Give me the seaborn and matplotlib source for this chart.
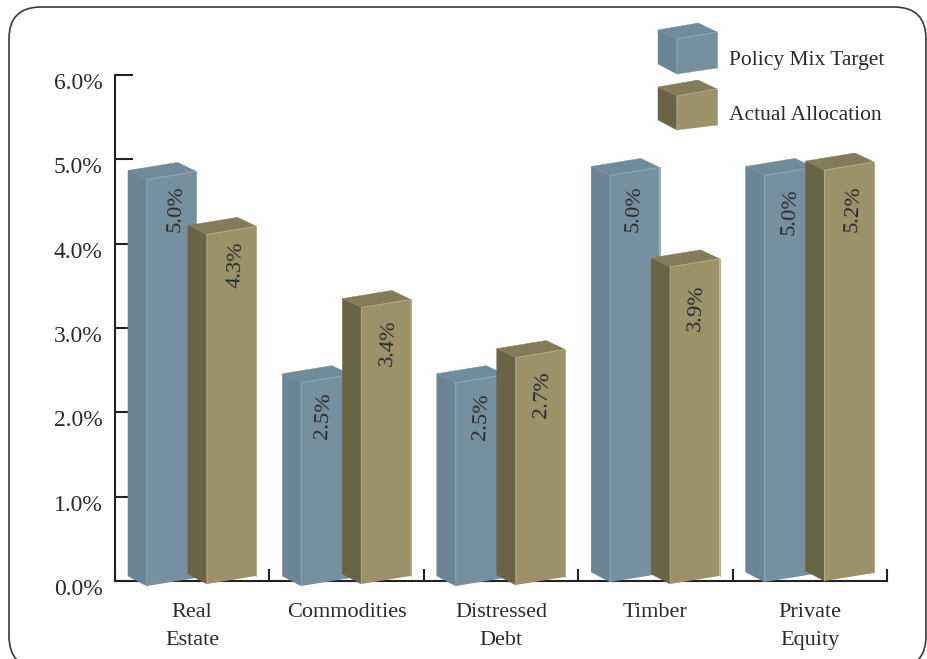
import matplotlib
matplotlib.use("Agg")
import matplotlib.pyplot as plt
from matplotlib.lines import Line2D
from matplotlib.patches import FancyBboxPatch, Polygon
from matplotlib.ticker import FixedLocator, FuncFormatter
from matplotlib.transforms import Affine2D, IdentityTransform, ScaledTranslation
import pandas as pd
import seaborn as sns

# Allocation data, in percent of the portfolio
categories = ["Real\nEstate", "Commodities", "Distressed\nDebt", "Timber", "Private\nEquity"]
policy_target = [5.0, 2.5, 2.5, 5.0, 5.0]
actual_allocation = [4.3, 3.4, 2.7, 3.9, 5.2]
series_names = ["Policy Mix Target", "Actual Allocation"]
y_ticks = [0, 1, 2, 3, 4, 5, 6]

# Face colours: front, side, top, highlight
BLUE = ("#76909F", "#6B8594", "#708B9A", "#8FA8B6")
TAN = ("#9C9168", "#696446", "#847C59", "#B4AA83")
INK = "#2B2B2B"
FONT = "Liberation Serif"

W, H = 927, 659
AX_LEFT, AX_RIGHT, AX_TOP, AX_BOTTOM = 115, 887, 75, 581

# Pseudo-3D layout, all in pixels
SHIFT_X = 9.5            # front faces sit right of the category centre
SHEAR = 8 / 49           # front faces rise towards the right
FACE_SCALE = 81.3 / 84.33  # front faces are slightly shorter than the axis scale
DEPTH_TOP = (-19, -9)
DEPTH_BASE = (-19, -10)
BASE_DROP = ([5, 5, 5, 1, 1], [3, 3, 4, 3, 0])
HEIGHT_TRIM = ([1, 1, 1, 1, 1], [1, 1, 1.036, 1, 0.972])
LABEL_NUDGE_X = ([5, -2, 1, -1, 1], [5, 3, 2, 2, 4])
LABEL_DROP = ([29, 33, 34, 33, 36], [30, 35, 37, 41, 39])


def px(x, y):
    """Convert image pixels (origin top-left) to display coordinates."""
    return (x, H - y)


def poly(ax, pts, color, z):
    ax.add_patch(Polygon(pts, closed=True, facecolor=color, edgecolor=color, linewidth=0.3,
                         transform=IdentityTransform(), clip_on=False, zorder=z))


def highlight(ax, pts, color, z):
    xs, ys = zip(*pts)
    ax.add_line(Line2D(xs, ys, color=color, linewidth=0.7, transform=IdentityTransform(),
                       clip_on=False, zorder=z))


def box_faces(ax, bl, br, tr, tl, palette, z):
    """Draw side, top, front faces of a block from its four front corners."""
    front, side, top, light = palette
    back_tl = (tl[0] + DEPTH_TOP[0], tl[1] - DEPTH_TOP[1])
    back_tr = (tr[0] + DEPTH_TOP[0], tr[1] - DEPTH_TOP[1])
    back_bl = (bl[0] + DEPTH_BASE[0], bl[1] - DEPTH_BASE[1])
    poly(ax, [tl, bl, back_bl, back_tl], side, z)
    poly(ax, [tl, tr, back_tr, back_tl], top, z)
    highlight(ax, [bl, tl, tr], light, z + 0.3)
    highlight(ax, [tr, br], light, z + 0.3)


sns.set_theme(style="white")
plt.rcParams["font.family"] = [FONT, "DejaVu Serif"]

fig = plt.figure(figsize=(W / 100, H / 100), dpi=100)
fig.patch.set_facecolor("white")

# Rounded outer frame, cut off by the lower edge of the figure
fig.add_artist(FancyBboxPatch((9, H - 668), 917, 661,
                              boxstyle="round,pad=0,rounding_size=32", linewidth=1.2, edgecolor="#3A3A3A",
                              facecolor="white", transform=IdentityTransform(), zorder=-5,
                              mutation_scale=1))

ax = fig.add_axes([AX_LEFT / W, 1 - AX_BOTTOM / H, (AX_RIGHT - AX_LEFT) / W, (AX_BOTTOM - AX_TOP) / H])
ax.patch.set_alpha(0)

table = pd.DataFrame({
    "category": categories * 2,
    "series": [series_names[0]] * 5 + [series_names[1]] * 5,
    "value": policy_target + actual_allocation,
})

sns.barplot(data=table, x="category", y="value", hue="series", hue_order=series_names, order=categories,
            palette=[BLUE[0], TAN[0]], width=0.777, gap=0.175, dodge=True, legend=False,
            saturation=1, ax=ax)

ax.set_xlim(-0.5, 4.5)
ax.set_ylim(0, 6)
ax.set_xlabel("")
ax.set_ylabel("")
ax.set_axisbelow(True)

# Axis styling: only left and bottom lines, ticks pointing into the plot
for side_name in ("top", "right"):
    ax.spines[side_name].set_visible(False)
for side_name in ("left", "bottom"):
    ax.spines[side_name].set_linewidth(1.5)
    ax.spines[side_name].set_color("#222222")
ax.yaxis.set_major_locator(FixedLocator(y_ticks))
ax.yaxis.set_major_formatter(FuncFormatter(lambda v, _: f"{v:.1f}%"))
ax.tick_params(axis="y", which="major", direction="in", left=True, length=13, width=1.5, color="#222222",
               pad=9, labelsize=17, labelcolor=INK)
ax.set_xticks(range(5), categories)
ax.set_xticks([i - 0.5 for i in range(6)], minor=True)
ax.tick_params(axis="x", which="major", bottom=False, length=0, pad=16, labelsize=16, labelcolor=INK)
ax.tick_params(axis="x", which="minor", direction="in", bottom=True, length=9, width=1.5, color="#222222")
for lab in ax.get_xticklabels():
    lab.set_linespacing(1.65)
# The percent labels sit a little below their tick marks
label_drop = ScaledTranslation(0, -6 / 72 * 0.72, fig.dpi_scale_trans)
for lab in ax.get_yticklabels():
    lab.set_transform(lab.get_transform() + label_drop)

# Turn the flat bars into sheared front faces and add their side and top faces
fig.canvas.draw()
base_y = ax.transData.transform((0, 0))[1]
for s, (container, palette) in enumerate(zip(ax.containers, (BLUE, TAN))):
    for i, bar in enumerate(container):
        x0 = ax.transData.transform((bar.get_x(), 0))[0]
        scale = FACE_SCALE * HEIGHT_TRIM[s][i]
        offset = base_y * (1 - scale) - SHEAR * x0 - BASE_DROP[s][i]
        face = Affine2D.from_values(1, SHEAR, 0, scale, SHIFT_X, offset)
        full = ax.transData + face
        z = 4 + 2 * s + i * 0.01
        bar.set_transform(full)
        bar.set_clip_on(False)
        bar.set_zorder(z + 0.2)
        bar.set_linewidth(0)

        bl, br, tr, tl = full.transform(bar.get_corners())
        box_faces(ax, bl, br, tr, tl, palette, z)

        value = (policy_target, actual_allocation)[s][i]
        ax.text(0.5 * (tl[0] + tr[0]) + LABEL_NUDGE_X[s][i], tl[1] - LABEL_DROP[s][i], f"{value:.1f}%",
                rotation=87, ha="center", va="center", rotation_mode="anchor", fontsize=16, color=INK,
                transform=IdentityTransform(), zorder=9)

# Legend built from the same blocks as the bars
swatches = [
    (BLUE, (677, 74), (717, 68), (717, 32), (677, 39), 61),
    (TAN, (677, 130), (717, 125), (717, 89), (677, 96), 116),
]
for name, (palette, bl, br, tr, tl, text_y) in zip(series_names, swatches):
    corners = [px(*bl), px(*br), px(*tr), px(*tl)]
    poly(ax, corners, palette[0], 10.2)
    box_faces(ax, *corners, palette, 10)
    lx, ly = px(729, text_y)
    ax.text(lx, ly, name, ha="left", va="center", fontsize=15.5, color=INK,
            transform=IdentityTransform(), zorder=10)

fig.savefig("out.png", dpi=100, facecolor="white")
